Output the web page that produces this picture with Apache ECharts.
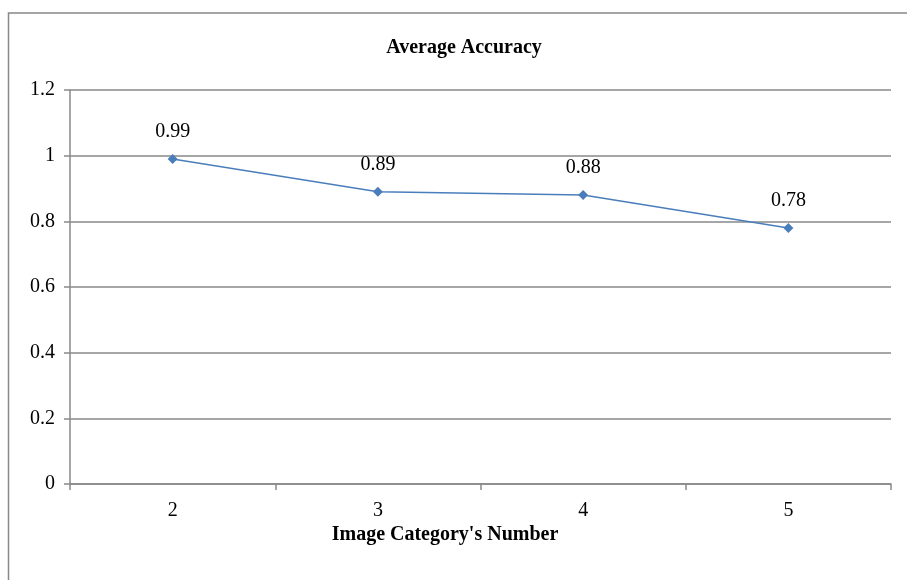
<!DOCTYPE html>
<html><head><meta charset="utf-8">
<script src="https://cdn.jsdelivr.net/npm/echarts@6/dist/echarts.min.js"></script>
<style>html,body{margin:0;padding:0;background:#fff}#c{width:907px;height:580px}</style>
</head><body><div id="c"></div>
<script>
const categories = ['2', '3', '4', '5'];
const accuracy = [0.99, 0.89, 0.88, 0.78];
const yTicks = [0, 0.2, 0.4, 0.6, 0.8, 1, 1.2];

const chart = echarts.init(document.getElementById('c'), null, {renderer: 'canvas'});
const serif = '"Liberation Serif", "Times New Roman", serif';
const grid = '#898989';
chart.setOption({
  animation: false,
  backgroundColor: '#fff',
  graphic: [
    {type: 'rect', shape: {x: 8.5, y: 13, width: 1000, height: 1000}, style: {fill: 'none', stroke: '#888', lineWidth: 1.5}, z: -1},
    {type: 'text', x: 445, y: 535, style: {text: "Image Category's Number", textAlign: 'center', textVerticalAlign: 'middle', font: 'bold 20px ' + serif, fill: '#000'}},
    {type: 'text', x: 464, y: 48, style: {text: 'Average Accuracy', textAlign: 'center', textVerticalAlign: 'middle', font: 'bold 20px ' + serif, fill: '#000'}}
  ],
  grid: {left: 70, right: 16, top: 90, bottom: 96, containLabel: false},
  xAxis: {
    type: 'category', data: categories, boundaryGap: true,
    axisLine: {lineStyle: {color: grid, width: 1.5}},
    axisTick: {show: true, length: 6, lineStyle: {color: grid, width: 1.5}},
    axisLabel: {fontFamily: serif, fontSize: 20, color: '#000', margin: 17}
  },
  yAxis: {
    type: 'value', min: 0, max: 1.2, interval: 0.2,
    axisLine: {show: true, lineStyle: {color: grid, width: 1.5}},
    axisTick: {show: true, length: 6, lineStyle: {color: grid, width: 1.5}},
    splitLine: {lineStyle: {color: grid, width: 1.5}},
    axisLabel: {fontFamily: serif, fontSize: 20, color: '#000', margin: 15,
      formatter: v => { const t = yTicks.find(x => Math.abs(x - v) < 1e-9); return t === undefined ? '' : String(t); }}
  },
  series: [{
    type: 'line', data: accuracy,
    symbol: 'diamond', symbolSize: 10,
    lineStyle: {color: '#4a7ebb', width: 1.5},
    itemStyle: {color: '#4a7ebb'},
    label: {show: true, position: 'top', distance: 12, fontFamily: serif, fontSize: 20, color: '#000',
      formatter: p => String(p.value)}
  }]
});
</script></body></html>
